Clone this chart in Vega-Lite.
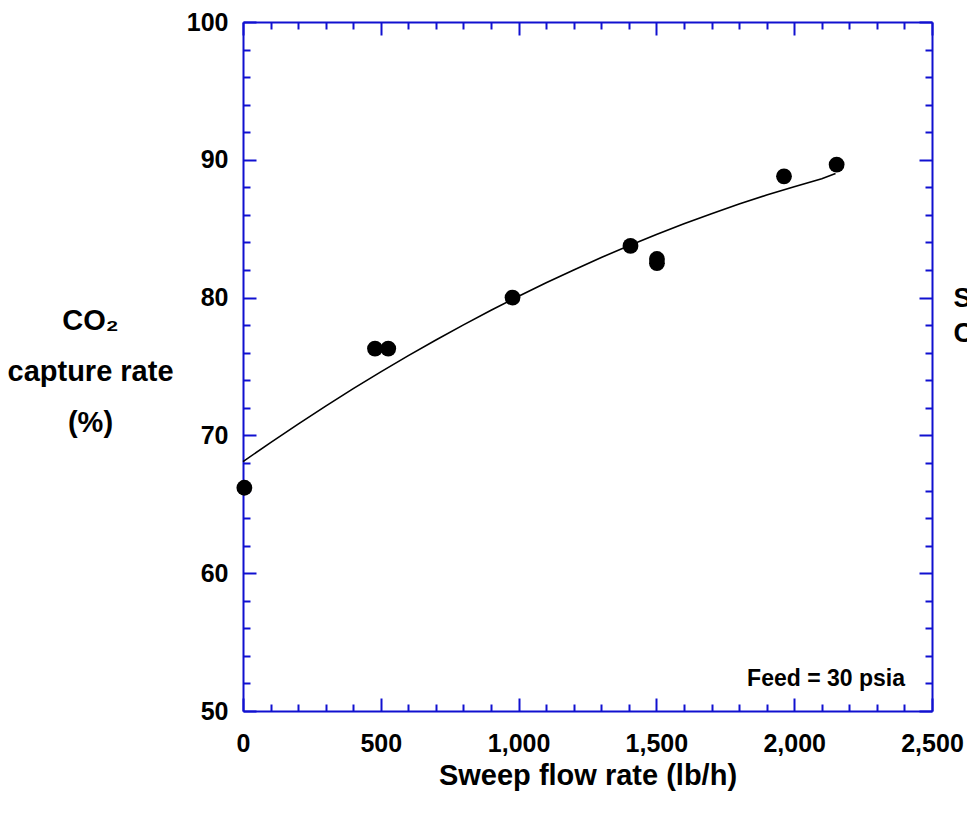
{
  "$schema": "https://vega.github.io/schema/vega-lite/v6.json",
  "width": 689,
  "height": 689,
  "autosize": {"type": "none"},
  "padding": {"left": 243, "top": 22, "right": 35, "bottom": 106},
  "background": "white",
  "config": {
    "view": {"stroke": null},
    "font": "Liberation Sans",
    "axis": {
      "domainColor": "#1010d0",
      "domainWidth": 2,
      "tickColor": "#1010d0",
      "tickWidth": 2,
      "grid": false,
      "labelFont": "Liberation Sans",
      "labelFontWeight": "bold",
      "labelFontSize": 25,
      "labelColor": "black",
      "titleFont": "Liberation Sans",
      "titleFontWeight": "bold",
      "titleFontSize": 29,
      "titleColor": "black",
      "labelOverlap": false,
      "labelFlush": false,
      "labelBound": false
    }
  },
  "resolve": {"axis": {"x": "independent", "y": "independent"}},
  "layer": [
    {
      "data": {"values": [
        {"flow": 0, "capture": 68.1},
        {"flow": 100, "capture": 69.48},
        {"flow": 200, "capture": 70.82},
        {"flow": 300, "capture": 72.13},
        {"flow": 400, "capture": 73.39},
        {"flow": 500, "capture": 74.61},
        {"flow": 600, "capture": 75.79},
        {"flow": 700, "capture": 76.92},
        {"flow": 800, "capture": 78.02},
        {"flow": 900, "capture": 79.08},
        {"flow": 1000, "capture": 80.1},
        {"flow": 1100, "capture": 81.08},
        {"flow": 1200, "capture": 82.01},
        {"flow": 1300, "capture": 82.91},
        {"flow": 1400, "capture": 83.77},
        {"flow": 1500, "capture": 84.58},
        {"flow": 1600, "capture": 85.36},
        {"flow": 1700, "capture": 86.09},
        {"flow": 1800, "capture": 86.79},
        {"flow": 1900, "capture": 87.44},
        {"flow": 2000, "capture": 88.05},
        {"flow": 2100, "capture": 88.63},
        {"flow": 2150, "capture": 89.0}
      ]},
      "mark": {"type": "line", "color": "black", "strokeWidth": 1.6, "clip": false},
      "encoding": {
        "x": {
          "field": "flow", "type": "quantitative",
          "scale": {"domain": [0, 2500], "nice": false, "zero": false},
          "axis": {
            "orient": "bottom",
            "title": "Sweep flow rate (lb/h)",
            "values": [0,100,200,300,400,500,600,700,800,900,1000,1100,1200,1300,1400,1500,1600,1700,1800,1900,2000,2100,2200,2300,2400,2500],
            "labelExpr": "datum.value % 500 === 0 ? format(datum.value, ',') : ''",
            "tickSize": {"condition": {"test": "datum.value % 500 === 0", "value": -13}, "value": -7},
            "labelPadding": 33,
            "titleBaseline": "middle",
            "titleY": 64
          }
        },
        "y": {
          "field": "capture", "type": "quantitative",
          "scale": {"domain": [50, 100], "nice": false, "zero": false},
          "axis": {
            "orient": "left",
            "title": ["CO₂", "capture rate", "(%)"],
            "values": [50,52,54,56,58,60,62,64,66,68,70,72,74,76,78,80,82,84,86,88,90,92,94,96,98,100],
            "labelExpr": "datum.value % 10 === 0 ? format(datum.value, 'd') : ''",
            "tickSize": {"condition": {"test": "datum.value % 10 === 0", "value": -13}, "value": -7},
            "labelPadding": 28,
            "titleFontSize": 29,
            "titleAngle": 0,
            "titleAlign": "center",
            "titleBaseline": "middle",
            "titleLineHeight": 51,
            "titleX": -153,
            "titleY": 298
          }
        }
      }
    },
    {
      "data": {"values": [
        {"flow": 5, "capture": 66.2},
        {"flow": 479, "capture": 76.3},
        {"flow": 527, "capture": 76.3},
        {"flow": 978, "capture": 80.0},
        {"flow": 1406, "capture": 83.75},
        {"flow": 1502, "capture": 82.8},
        {"flow": 1502, "capture": 82.5},
        {"flow": 1963, "capture": 88.8},
        {"flow": 2154, "capture": 89.65}
      ]},
      "mark": {"type": "point", "shape": "circle", "filled": true, "color": "black", "opacity": 1, "size": 250, "clip": false},
      "encoding": {
        "x": {
          "field": "flow", "type": "quantitative",
          "scale": {"domain": [0, 2500], "nice": false, "zero": false},
          "axis": {
            "orient": "top",
            "title": null,
            "labels": false,
            "values": [0,100,200,300,400,500,600,700,800,900,1000,1100,1200,1300,1400,1500,1600,1700,1800,1900,2000,2100,2200,2300,2400,2500],
            "tickSize": {"condition": {"test": "datum.value % 500 === 0", "value": -13}, "value": -7}
          }
        },
        "y": {
          "field": "capture", "type": "quantitative",
          "scale": {"domain": [50, 100], "nice": false, "zero": false},
          "axis": {
            "orient": "right",
            "title": ["S", "C"],
            "labels": false,
            "values": [50,52,54,56,58,60,62,64,66,68,70,72,74,76,78,80,82,84,86,88,90,92,94,96,98,100],
            "tickSize": {"condition": {"test": "datum.value % 10 === 0", "value": -13}, "value": -7},
            "titleFontSize": 27,
            "titleAngle": 0,
            "titleAlign": "left",
            "titleBaseline": "middle",
            "titleLineHeight": 35,
            "titleX": 21,
            "titleY": 276
          }
        }
      }
    },
    {
      "data": {"values": [{"note": "Feed = 30 psia"}]},
      "mark": {"type": "text", "align": "right", "baseline": "middle", "font": "Liberation Sans", "fontWeight": "bold", "fontSize": 23, "color": "black"},
      "encoding": {
        "x": {"datum": 2402, "type": "quantitative", "scale": {"domain": [0, 2500], "nice": false, "zero": false}, "axis": null},
        "y": {"datum": 52.3, "type": "quantitative", "scale": {"domain": [50, 100], "nice": false, "zero": false}, "axis": null},
        "text": {"field": "note"}
      }
    }
  ]
}
